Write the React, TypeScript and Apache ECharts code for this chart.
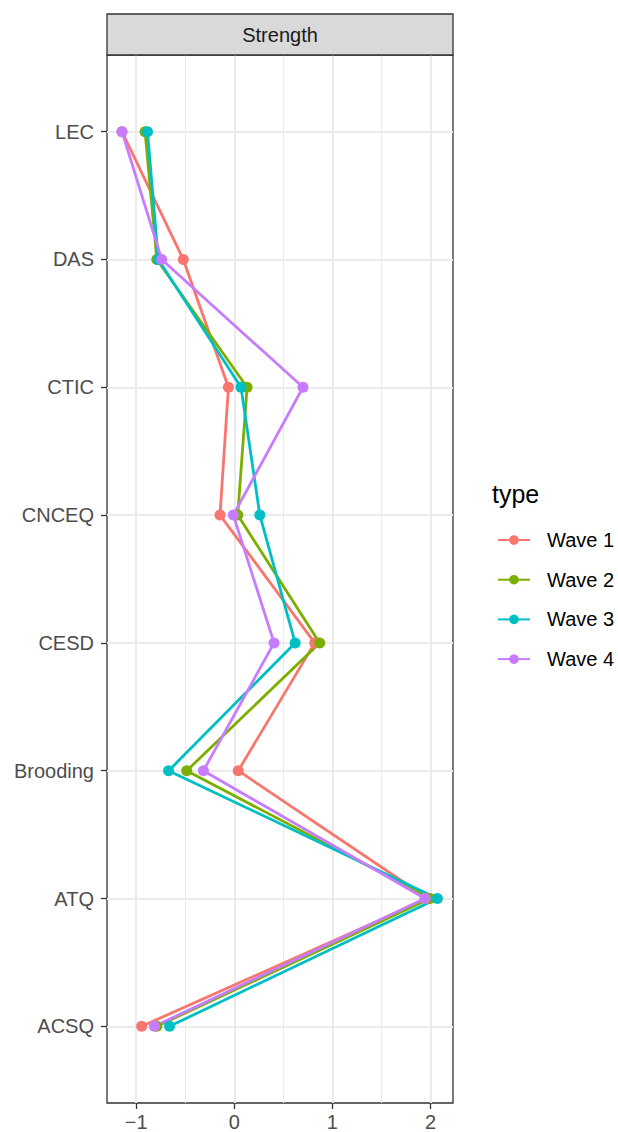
import React, { useEffect, useRef } from "react";
import * as echarts from "echarts";

const categories = ["LEC", "DAS", "CTIC", "CNCEQ", "CESD", "Brooding", "ATQ", "ACSQ"];
const seriesNames = ["Wave 1", "Wave 2", "Wave 3", "Wave 4"];
const wave1 = [-1.145, -0.52, -0.06, -0.146, 0.82, 0.04, 1.975, -0.944];
const wave2 = [-0.91, -0.79, 0.13, 0.035, 0.87, -0.485, 1.995, -0.79];
const wave3 = [-0.885, -0.775, 0.068, 0.26, 0.62, -0.67, 2.07, -0.66];
const wave4 = [-1.145, -0.74, 0.70, -0.01, 0.405, -0.315, 1.944, -0.815];
const xTicks = [-1, 0, 1, 2];
const xMinor = [-0.5, 0.5, 1.5];
const colors = ["#F8766D", "#7CAE00", "#00BFC4", "#C77CFF"];

const FONT = "Liberation Sans, Arial, Helvetica, sans-serif";

export default function App() {
  const ref = useRef<HTMLDivElement>(null);
  useEffect(() => {
    if (!ref.current) return;
    const chart = echarts.init(ref.current, null, { renderer: "svg" });
    const waves = [wave1, wave2, wave3, wave4];
    const yIdx = categories.map((_, i) => i);

    const gridLines: any[] = [];
    xMinor.forEach((v) =>
      gridLines.push({ xAxis: v, lineStyle: { color: "#ebebeb", width: 1.1, type: "solid" } })
    );
    xTicks.forEach((v) =>
      gridLines.push({ xAxis: v, lineStyle: { color: "#ebebeb", width: 2, type: "solid" } })
    );
    yIdx.forEach((v) =>
      gridLines.push({ yAxis: v, lineStyle: { color: "#ebebeb", width: 2, type: "solid" } })
    );

    const series: any[] = [
      {
        name: "__grid",
        type: "line",
        data: [],
        z: 0,
        zlevel: 0,
        silent: true,
        markLine: {
          silent: true,
          z: 0,
          symbol: ["none", "none"],
          label: { show: false },
          animation: false,
          data: gridLines,
        },
      },
    ];
    waves.forEach((w, i) => {
      series.push({
        name: seriesNames[i],
        type: "line",
        data: w.map((v, j) => [v, j]),
        z: 10,
        symbol: "circle",
        symbolSize: 11,
        showSymbol: false,
        lineStyle: { color: colors[i], width: 2.8 },
        itemStyle: { color: colors[i] },
        color: colors[i],
      });
    });
    waves.forEach((w, i) => {
      series.push({
        name: seriesNames[i],
        type: "scatter",
        data: w.map((v, j) => [v, j]),
        z: 12,
        symbol: "circle",
        symbolSize: 11,
        itemStyle: { color: colors[i], opacity: 1 },
      });
    });

    chart.setOption({
      animation: false,
      grid: {
        left: 107,
        top: 55,
        width: 346,
        height: 1049,
        show: true,
        borderColor: "#333333",
        borderWidth: 1.3,
        backgroundColor: "transparent",
      },
      xAxis: {
        type: "value",
        min: -1.2977,
        max: 2.229,
        position: "bottom",
        splitLine: { show: false },
        axisLine: { show: false, onZero: false },
        axisTick: {
          show: true,
          customValues: xTicks,
          length: 6,
          lineStyle: { color: "#333333", width: 1.3 },
        },
        axisLabel: {
          customValues: xTicks,
          color: "#4d4d4d",
          fontSize: 20,
          fontFamily: FONT,
          margin: 9,
          formatter: (v: number) => (v < 0 ? "\u2212" + Math.abs(v) : String(v)),
        },
      },
      yAxis: {
        type: "value",
        inverse: true,
        min: -0.6,
        max: 7.6,
        position: "left",
        splitLine: { show: false },
        axisLine: { show: false, onZero: false },
        axisTick: {
          show: true,
          customValues: yIdx,
          length: 6,
          lineStyle: { color: "#333333", width: 1.3 },
        },
        axisLabel: {
          customValues: yIdx,
          color: "#4d4d4d",
          fontSize: 20,
          fontFamily: FONT,
          margin: 13,
          formatter: (v: number) => categories[Math.round(v)] ?? "",
        },
      },
      legend: {
        data: seriesNames,
        orient: "vertical",
        left: 492,
        top: 525,
        itemWidth: 32,
        itemHeight: 12,
        itemGap: 19.7,
        selectedMode: false,
        textStyle: {
          color: "#000000",
          fontSize: 20,
          fontFamily: FONT,
          lineHeight: 20,
          padding: [0, 0, 0, 12],
        },
      },
      graphic: [
        {
          type: "rect",
          shape: { x: 107, y: 14, width: 346, height: 41 },
          style: { fill: "#d9d9d9", stroke: "#333333", lineWidth: 1.3 },
          z: 10,
        },
        {
          type: "text",
          x: 280,
          y: 35,
          style: {
            text: "Strength",
            fill: "#1a1a1a",
            font: `20px ${FONT}`,
            textAlign: "center",
            textVerticalAlign: "middle",
          },
          z: 11,
        },
        {
          type: "text",
          x: 492,
          y: 494,
          style: {
            text: "type",
            fill: "#000000",
            font: `25px ${FONT}`,
            textAlign: "left",
            textVerticalAlign: "middle",
          },
          z: 11,
        },
      ],
      series,
    });
    return () => chart.dispose();
  }, []);
  return <div ref={ref} style={{ width: 618, height: 1132, position: "absolute", left: 0, top: 0 }} />;
}
